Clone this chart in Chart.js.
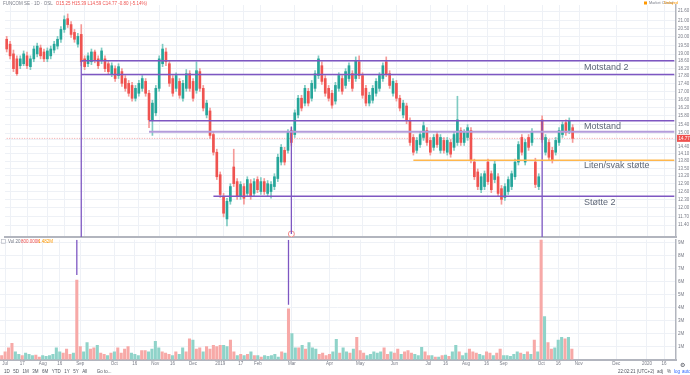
<!DOCTYPE html>
<html>
<head>
<meta charset="utf-8">
<script src="https://cdn.jsdelivr.net/npm/chart.js@4.4.1/dist/chart.umd.min.js"></script>
<style>
  html, body { margin: 0; padding: 0; background: #fff; overflow: hidden; }
  #wrap { position: relative; width: 690px; height: 375px; }
  #priceBox { position: absolute; left: 0; top: 0; width: 690px; height: 242px; }
  #volBox { position: absolute; left: 0; top: 235px; width: 690px; height: 140px; }
</style>
</head>
<body>
<div id="wrap">
  <div id="priceBox"><canvas id="priceChart"></canvas></div>
  <div id="volBox"><canvas id="volChart"></canvas></div>
</div>
<script>
// Oslo Børs closing days in the period
const holidays = ['2018-12-24', '2018-12-25', '2018-12-26', '2018-12-31', '2019-01-01',
  '2019-04-18', '2019-04-19', '2019-04-22', '2019-05-01', '2019-05-17', '2019-05-30',
  '2019-06-10', '2019-12-24', '2019-12-25', '2019-12-26', '2019-12-31', '2020-01-01'];

// one candle = two sessions
const openP = [19.86, 19.57, 19.01, 18.73, 18.35, 18.46, 18.90, 18.30, 18.73, 19.01,
  19.35, 19.12, 18.73, 18.90, 19.23, 19.46, 19.86, 20.45, 21.12, 20.75,
  20.27, 19.57, 20.15, 18.73, 18.46, 18.57, 19.12, 18.73, 18.62, 18.73,
  18.46, 17.92, 18.19, 17.82, 18.03, 17.66, 17.41, 17.30, 16.65, 16.90,
  17.15, 17.51, 16.90, 15.57, 15.94, 17.15, 18.46, 19.12, 18.46, 17.66,
  17.15, 17.51, 16.65, 17.15, 17.92, 17.51, 17.05, 18.03, 17.15, 15.84,
  16.03, 14.94, 14.17, 13.25, 12.42, 11.61, 12.24, 13.56, 12.98, 12.42,
  12.79, 12.53, 12.90, 12.53, 13.06, 12.60, 12.98, 12.53, 12.60, 12.79,
  13.10, 13.76, 14.25, 14.25, 15.12, 14.94, 15.84, 16.65, 16.41, 17.00,
  16.65, 17.15, 17.82, 18.35, 17.66, 17.15, 16.90, 16.51, 17.15, 17.66,
  17.30, 17.66, 17.92, 17.66, 18.57, 17.82, 17.15, 16.41, 16.55, 16.90,
  17.15, 17.66, 18.57, 17.92, 16.90, 17.41, 16.65, 15.84, 16.27, 15.57,
  14.81, 14.25, 14.50, 14.81, 15.12, 14.68, 14.38, 14.94, 14.25, 14.68,
  14.17, 14.59, 14.38, 14.59, 15.12, 14.59, 14.81, 15.12, 13.76, 13.36,
  12.67, 12.79, 13.76, 13.29, 13.06, 13.17, 12.71, 12.38, 12.60, 12.79,
  13.17, 13.76, 14.81, 13.76, 14.81, 14.59, 13.76, 12.79, 15.61, 14.17,
  14.59, 14.25, 14.17, 14.59, 14.94, 15.48, 15.12, 15.25];
const highP = [20.03, 19.74, 19.23, 18.90, 18.90, 19.18, 19.12, 18.90, 19.46, 19.63,
  19.52, 19.29, 19.35, 19.46, 19.74, 20.03, 20.63, 21.30, 21.42, 20.93,
  20.45, 20.21, 20.75, 18.90, 19.07, 19.29, 19.23, 18.90, 19.35, 18.90,
  18.62, 18.51, 18.35, 18.46, 18.19, 17.82, 17.56, 17.46, 17.30, 17.56,
  17.82, 17.66, 17.05, 16.55, 17.30, 18.90, 19.57, 19.35, 18.62, 17.82,
  17.97, 17.66, 17.56, 18.14, 18.08, 17.66, 18.57, 18.19, 17.30, 16.55,
  16.17, 15.07, 14.30, 13.36, 12.53, 12.35, 12.90, 14.30, 13.10, 12.98,
  12.90, 13.17, 13.06, 13.10, 13.17, 13.14, 13.10, 13.02, 12.98, 13.29,
  14.09, 14.50, 14.38, 15.16, 15.25, 16.08, 16.80, 16.80, 17.30, 17.15,
  17.56, 18.08, 18.90, 18.57, 17.82, 17.30, 17.05, 17.46, 17.97, 17.82,
  18.19, 18.51, 18.08, 18.84, 18.90, 17.97, 17.30, 16.95, 17.30, 17.66,
  17.97, 18.51, 18.84, 18.08, 17.66, 17.56, 16.80, 16.55, 16.41, 15.70,
  14.94, 14.81, 15.07, 15.52, 15.25, 14.81, 14.94, 15.07, 14.94, 14.81,
  14.81, 14.72, 15.07, 16.75, 15.25, 15.16, 15.39, 15.25, 13.88, 13.48,
  13.29, 13.40, 13.88, 13.40, 13.80, 13.29, 12.83, 12.90, 13.17, 13.40,
  13.88, 14.63, 14.94, 14.72, 14.94, 15.21, 13.92, 13.29, 15.80, 14.94,
  14.72, 14.38, 14.81, 15.25, 15.52, 15.61, 15.70, 15.39];
const lowP = [19.12, 18.73, 18.03, 17.82, 18.19, 18.35, 18.19, 18.14, 18.57, 18.84,
  18.73, 18.57, 18.57, 18.73, 19.07, 19.29, 19.68, 20.27, 20.57, 19.97,
  19.68, 19.40, 18.35, 18.14, 18.30, 18.41, 18.51, 18.19, 18.46, 18.03,
  17.87, 17.76, 17.51, 17.66, 17.25, 17.00, 16.75, 16.51, 16.51, 16.75,
  17.00, 16.75, 15.25, 14.90, 15.80, 17.00, 18.30, 18.35, 17.25, 16.75,
  17.00, 16.65, 16.51, 17.00, 17.00, 16.51, 16.90, 17.00, 16.03, 15.70,
  14.77, 14.05, 13.06, 12.38, 11.68, 11.37, 12.13, 12.79, 12.31, 12.31,
  12.13, 12.42, 12.31, 12.42, 12.56, 12.49, 12.49, 12.42, 12.35, 12.67,
  12.98, 13.64, 13.64, 14.13, 14.46, 14.81, 15.70, 16.03, 16.27, 16.27,
  16.51, 17.00, 17.66, 17.35, 16.75, 16.51, 16.17, 16.36, 17.00, 16.85,
  17.15, 17.51, 17.00, 17.51, 17.66, 16.65, 16.27, 16.27, 16.41, 16.75,
  17.00, 17.51, 17.76, 17.15, 16.75, 16.51, 16.03, 15.70, 15.43, 14.46,
  14.05, 14.13, 14.38, 14.68, 14.46, 14.05, 14.25, 14.38, 14.13, 14.13,
  14.05, 13.96, 14.25, 14.46, 14.46, 14.46, 14.68, 13.72, 13.06, 12.67,
  12.56, 12.67, 12.87, 12.56, 12.94, 12.42, 12.13, 12.27, 12.49, 12.67,
  13.06, 13.64, 14.05, 13.64, 14.25, 14.46, 12.75, 12.67, 14.59, 14.05,
  13.84, 13.72, 14.05, 14.46, 14.81, 14.90, 14.98, 14.59];
const closeP = [19.29, 18.90, 18.19, 17.92, 18.73, 19.01, 18.35, 18.73, 19.29, 19.46,
  18.90, 18.73, 19.18, 19.29, 19.57, 19.86, 20.45, 21.06, 20.75, 20.15,
  19.86, 20.03, 18.57, 18.30, 18.90, 19.12, 18.68, 18.35, 19.18, 18.19,
  18.03, 18.35, 17.66, 18.30, 17.41, 17.15, 16.90, 16.65, 17.15, 17.41,
  17.66, 16.90, 15.61, 16.41, 17.15, 18.73, 19.29, 18.57, 17.41, 16.90,
  17.82, 16.80, 17.41, 17.92, 17.15, 16.65, 18.08, 17.15, 16.17, 16.41,
  14.90, 14.17, 13.17, 12.49, 11.81, 12.24, 12.79, 12.90, 12.42, 12.87,
  12.35, 13.06, 12.42, 12.98, 12.67, 12.98, 12.60, 12.90, 12.87, 13.17,
  13.96, 14.38, 13.76, 15.03, 14.59, 15.94, 16.65, 16.17, 17.15, 16.41,
  17.41, 17.92, 18.73, 17.51, 16.90, 16.65, 16.31, 17.30, 17.82, 17.00,
  18.03, 18.35, 17.15, 18.62, 17.82, 16.80, 16.41, 16.80, 17.15, 17.51,
  17.82, 18.35, 17.92, 17.30, 17.51, 16.65, 16.17, 16.41, 15.57, 14.59,
  14.17, 14.68, 14.94, 15.34, 14.59, 14.17, 14.81, 14.50, 14.81, 14.25,
  14.68, 14.09, 14.94, 15.61, 14.59, 15.03, 15.25, 13.84, 13.17, 12.79,
  13.17, 13.29, 12.98, 12.67, 13.68, 12.53, 12.31, 12.79, 13.06, 13.29,
  13.76, 14.50, 14.17, 14.59, 14.38, 15.03, 12.87, 13.17, 14.72, 14.81,
  13.96, 13.84, 14.68, 15.12, 15.39, 15.03, 15.57, 14.77];
// volume in millions
const volume = [0.3, 0.6, 0.9, 1.25, 0.6, 0.4, 0.3, 0.5, 0.4, 0.3,
  0.35, 0.2, 0.3, 0.25, 0.3, 0.4, 0.9, 0.6, 0.5, 0.8,
  0.4, 0.5, 6.1, 1.0, 0.6, 1.3, 0.8, 0.9, 1.1, 0.5,
  0.4, 0.3, 0.5, 0.6, 0.9, 0.5, 0.8, 1.0, 0.5, 0.4,
  0.3, 0.7, 0.7, 0.6, 0.8, 1.4, 0.9, 0.6, 0.5, 0.4,
  0.3, 0.6, 0.4, 0.9, 0.6, 1.6, 1.5, 0.8, 0.9, 0.6,
  1.0, 0.8, 1.1, 1.0, 1.1, 1.1, 1.0, 1.5, 0.6, 0.3,
  0.4, 0.3, 0.4, 0.6, 0.3, 0.3, 0.2, 0.3, 0.25, 0.3,
  0.4, 0.2, 0.6, 0.5, 3.9, 2.0, 0.9, 0.9, 1.1, 0.8,
  1.3, 0.9, 0.8, 0.4, 0.5, 0.3, 0.4, 0.6, 1.55, 0.5,
  0.9, 0.6, 0.5, 0.8, 1.7, 0.7, 0.5, 0.3, 0.4, 0.6,
  0.5, 0.6, 0.9, 0.4, 0.6, 0.5, 0.8, 0.4, 0.6, 0.7,
  0.5, 0.4, 0.3, 0.95, 0.6, 0.3, 0.3, 0.2, 0.2, 0.3,
  0.35, 0.25, 0.6, 1.1, 0.6, 0.3, 0.5, 0.8, 0.6, 0.5,
  0.4, 0.3, 0.6, 0.5, 0.3, 0.5, 0.8, 0.3, 0.3, 0.25,
  0.4, 0.6, 0.5, 0.4, 0.6, 0.4, 1.5, 0.6, 10.5, 3.3,
  1.3, 0.8, 0.9, 1.5, 1.7, 1.6, 1.7, 0.8];

const priceTicks = [21.6, 21.0, 20.5, 20.0, 19.5, 19.0, 18.6, 18.2, 17.8, 17.4, 17.0, 16.6, 16.2,
  15.8, 15.4, 15.0, 14.7, 14.4, 14.1, 13.8, 13.5, 13.2, 12.9, 12.6, 12.3, 12.0, 11.7, 11.4];
const volTicks = [1, 2, 3, 4, 5, 6, 7, 8, 9];
const xTickDates = ['2018-07-02', '2018-07-17', '2018-08-01', '2018-08-16', '2018-09-03', '2018-10-01',
  '2018-10-16', '2018-11-01', '2018-11-16', '2018-12-03', '2019-01-02', '2019-01-17', '2019-02-01',
  '2019-03-01', '2019-04-01', '2019-05-02', '2019-06-03', '2019-07-01', '2019-07-16', '2019-08-01',
  '2019-08-16', '2019-09-02', '2019-10-01', '2019-10-16', '2019-11-01', '2019-12-02', '2020-01-02', '2020-01-16'];
const xTickText = ['Jul', '17', 'Aug', '16', 'Sep', 'Oct', '16', 'Nov', '16', 'Dec', '2019', '17', 'Feb',
  'Mar', 'Apr', 'May', 'Jun', 'Jul', '16', 'Aug', '16', 'Sep', 'Oct', '16', 'Nov', 'Dec', '2020', '16'];

// drawn levels
const levelValues = [18.62, 17.87, 15.57, 15.07, 13.84, 12.42];
const levelFrom = ['2018-08-30', '2018-08-30', '2018-10-25', '2018-10-25', '2019-06-17', '2018-12-18'];
const levelNames = ['Motstand 2', 'Motstand', 'Liten/svak støtte', 'Støtte 2'];
const markDates = ['2018-08-30', '2019-02-27', '2019-10-01'];
const markTops = [18.62, 15.3, 15.57];
const markVolStops = [6.5, 4.2, null];
const pinDate = '2019-02-27';
const pinValue = 11.1;

function tradingDays(from, count) {
  const out = [];
  const d = new Date(from + 'T00:00:00Z');
  while (out.length < count) {
    const s = d.toISOString().slice(0, 10);
    const wd = d.getUTCDay();
    if (wd !== 0 && wd !== 6 && !holidays.includes(s)) out.push(s);
    d.setUTCDate(d.getUTCDate() + 1);
  }
  return out;
}
const cats = tradingDays('2018-06-29', 396).filter((_, i) => i % 2 === 0);
const lastCat = cats.length - 1;
function idxOf(date) {
  const i = cats.findIndex(c => c >= date);
  return i < 0 ? lastCat : i;
}
const xTickIdx = xTickDates.map(idxOf);

const TEAL = '#26a69a', RED = '#ef5350';
const up = closeP.map((c, i) => c >= openP[i]);
const n = closeP.length - 1;
const FONT = '"Liberation Sans", Arial, sans-serif';
const GRID = '#eef1f6';
const AXIS = '#b2b5be';

const levelColors = ['#7e57c2', '#7e57c2', '#7e57c2', '#b39ddb', '#ffb74d', '#7e57c2'];
const levelWidths = [1.5, 1.5, 1.5, 2, 1.5, 1.5];

var priceSets = [];
levelValues.forEach(function (v, k) {
  priceSets.push({
    type: 'line',
    data: [{ x: cats[idxOf(levelFrom[k])], y: v }, { x: cats[lastCat], y: v }],
    borderColor: levelColors[k], borderWidth: levelWidths[k],
    pointRadius: 0, order: 0
  });
});
markDates.forEach(function (d, k) {
  priceSets.push({
    type: 'line',
    data: [{ x: cats[idxOf(d)], y: markTops[k] }, { x: cats[idxOf(d)], y: d === pinDate ? pinValue : 11 }],
    borderColor: '#7e57c2', borderWidth: 1.3, pointRadius: 0, order: 0
  });
});
priceSets.push({
  type: 'line',
  data: [{ x: cats[idxOf(pinDate)], y: pinValue }],
  showLine: false, pointRadius: 3, pointBackgroundColor: '#fff',
  pointBorderColor: '#f28b8b', pointBorderWidth: 1, order: 0
});
priceSets.push({
  type: 'line',
  data: [{ x: cats[0], y: closeP[n] }, { x: cats[lastCat], y: closeP[n] }],
  borderColor: '#f4a0a0', borderWidth: 1, borderDash: [1, 1.5], pointRadius: 0, order: 3
});
priceSets.push({
  type: 'bar',
  data: openP.map((o, i) => [o, closeP[i]]),
  backgroundColor: up.map(u => u ? TEAL : RED),
  barThickness: 2, grouped: false, order: 1
});
priceSets.push({
  type: 'bar',
  data: lowP.map((l, i) => [l, highP[i]]),
  backgroundColor: up.map(u => u ? '#7fcbc2' : '#f59a98'),
  barThickness: 1, grouped: false, order: 2
});

const priceDecor = {
  id: 'priceDecor',
  afterDraw(chart) {
    const { ctx, chartArea: a, scales: { y } } = chart;
    ctx.save();
    ctx.textBaseline = 'middle';
    // level captions
    ctx.font = '9px ' + FONT;
    ctx.fillStyle = '#5d6677';
    const tx = a.right - 92;
    ctx.fillText(levelNames[0], tx, y.getPixelForValue(levelValues[1]) - 7);
    ctx.fillText(levelNames[1], tx, (y.getPixelForValue(levelValues[2]) + y.getPixelForValue(levelValues[3])) / 2);
    ctx.fillText(levelNames[2], tx, y.getPixelForValue(levelValues[4]) + 5);
    ctx.fillText(levelNames[3], tx, y.getPixelForValue(levelValues[5]) + 6);
    // last price tag
    const py = y.getPixelForValue(closeP[n]);
    ctx.fillStyle = RED;
    ctx.fillRect(a.right + 1, py - 3.5, 13, 7);
    ctx.fillStyle = '#fff';
    ctx.font = '4.5px ' + FONT;
    ctx.fillText(closeP[n].toFixed(2), a.right + 2.5, py);
    // symbol legend
    ctx.fillStyle = '#787b86';
    ctx.fillText('FUNCOM SE · 1D · OSL', 3, 3.5);
    const w = ctx.measureText('FUNCOM SE · 1D · OSL').width;
    const ch = closeP[n] - closeP[n - 1];
    ctx.fillStyle = RED;
    ctx.fillText('O' + openP[n].toFixed(2) + ' H' + highP[n].toFixed(2) + ' L' + lowP[n].toFixed(2) +
      ' C' + closeP[n].toFixed(2) + ' ' + ch.toFixed(2) + ' (' + (ch / closeP[n - 1] * 100).toFixed(2) + '%)', 6 + w, 3.5);
    // market status
    ctx.fillStyle = '#ff9800';
    ctx.fillRect(644, 1.5, 3, 3);
    ctx.fillStyle = '#787b86';
    ctx.font = '3.8px ' + FONT;
    ctx.fillText('Market Closed', 649, 3.2);
    ctx.fillStyle = '#ff9800';
    ctx.fillText('Delayed', 664, 3.2);
    ctx.restore();
  }
};

new Chart(document.getElementById('priceChart'), {
  type: 'bar',
  data: { labels: cats, datasets: priceSets },
  options: {
    responsive: true,
    maintainAspectRatio: false,
    animation: false,
    layout: { padding: 0 },
    plugins: { legend: { display: false }, tooltip: { enabled: false } },
    scales: {
      x: {
        type: 'category', offset: true,
        afterBuildTicks: s => { s.ticks = xTickIdx.map(v => ({ value: v })); },
        ticks: { display: false },
        grid: { color: GRID, drawTicks: false, offset: false },
        border: { color: AXIS, width: 2 }
      },
      y: {
        type: 'logarithmic', position: 'right', min: 11, max: 22,
        afterBuildTicks: s => { s.ticks = priceTicks.map(v => ({ value: v })); },
        afterFit: s => { s.width = 14; },
        ticks: { autoSkip: false, padding: 2, color: '#787b86', font: { size: 4.5, family: FONT },
          callback: v => Number(v).toFixed(2) },
        grid: { color: GRID, drawTicks: false },
        border: { color: AXIS, width: 1.5 }
      }
    }
  },
  plugins: [priceDecor]
});

// volume pane
var volSets = [];
markDates.forEach(function (d, k) {
  if (markVolStops[k] === null) return;
  volSets.push({
    type: 'line',
    data: [{ x: cats[idxOf(d)], y: 9.2 }, { x: cats[idxOf(d)], y: markVolStops[k] }],
    borderColor: '#7e57c2', borderWidth: 1.3, pointRadius: 0, order: 0
  });
});
volSets.push({
  type: 'bar',
  data: volume,
  backgroundColor: up.map(u => u ? '#8fd3c9' : '#f7a9a7'),
  barThickness: 2.4, order: 1
});

const volDecor = {
  id: 'volDecor',
  afterDraw(chart) {
    const { ctx } = chart;
    ctx.save();
    ctx.textBaseline = 'middle';
    ctx.font = '4.5px ' + FONT;
    ctx.strokeStyle = '#b2b5be';
    ctx.lineWidth = 0.6;
    ctx.strokeRect(1.5, 4.5, 4, 4);
    ctx.fillStyle = '#787b86';
    ctx.fillText('Vol 20', 8, 6.6);
    const avg = volume.slice(-20).reduce((s, v) => s + v, 0) / 20;
    ctx.fillStyle = RED;
    ctx.fillText((volume[n] * 1000).toFixed(3) + 'K', 21, 6.6);
    ctx.fillStyle = '#ff9800';
    ctx.fillText(avg.toFixed(3) + 'M', 38, 6.6);
    // bottom toolbar
    ctx.fillStyle = '#50535e';
    ctx.font = '4.5px ' + FONT;
    const ranges = ['1D', '5D', '1M', '3M', '6M', 'YTD', '1Y', '5Y', 'All'];
    let x = 4;
    ranges.forEach(r => { ctx.fillText(r, x, 137); x += ctx.measureText(r).width + 3.5; });
    ctx.fillText('Go to...', x + 6, 137);
    ctx.fillText('22:02:21 (UTC+2)', 618, 137);
    ctx.fillText('adj', 657, 137);
    ctx.fillText('%', 667, 137);
    ctx.fillStyle = '#2962ff';
    ctx.fillText('log', 674, 137);
    ctx.fillText('auto', 682, 137);
    ctx.fillStyle = '#50535e';
    ctx.font = '6px "DejaVu Sans"';
    ctx.fillText('⚙', 680, 130);
    ctx.restore();
  }
};

new Chart(document.getElementById('volChart'), {
  type: 'bar',
  data: { labels: cats, datasets: volSets },
  options: {
    responsive: true,
    maintainAspectRatio: false,
    animation: false,
    layout: { padding: { bottom: 7 } },
    plugins: { legend: { display: false }, tooltip: { enabled: false } },
    scales: {
      x: {
        type: 'category', offset: true,
        afterBuildTicks: s => { s.ticks = xTickIdx.map(v => ({ value: v })); },
        ticks: { autoSkip: false, maxRotation: 0, padding: 1.5, color: '#787b86',
          font: { size: 4.5, family: FONT }, callback: (v, i) => xTickText[i] },
        grid: { color: GRID, drawTicks: false, offset: false },
        border: { color: AXIS, width: 2 }
      },
      y: {
        position: 'right', min: 0, max: 9.2,
        afterBuildTicks: s => { s.ticks = volTicks.map(v => ({ value: v })); },
        afterFit: s => { s.width = 14; },
        ticks: { autoSkip: false, padding: 2, color: '#787b86', font: { size: 4.5, family: FONT },
          callback: v => v + 'M' },
        grid: { color: GRID, drawTicks: false },
        border: { color: AXIS, width: 1.5 }
      }
    }
  },
  plugins: [volDecor]
});
</script>
</body>
</html>
